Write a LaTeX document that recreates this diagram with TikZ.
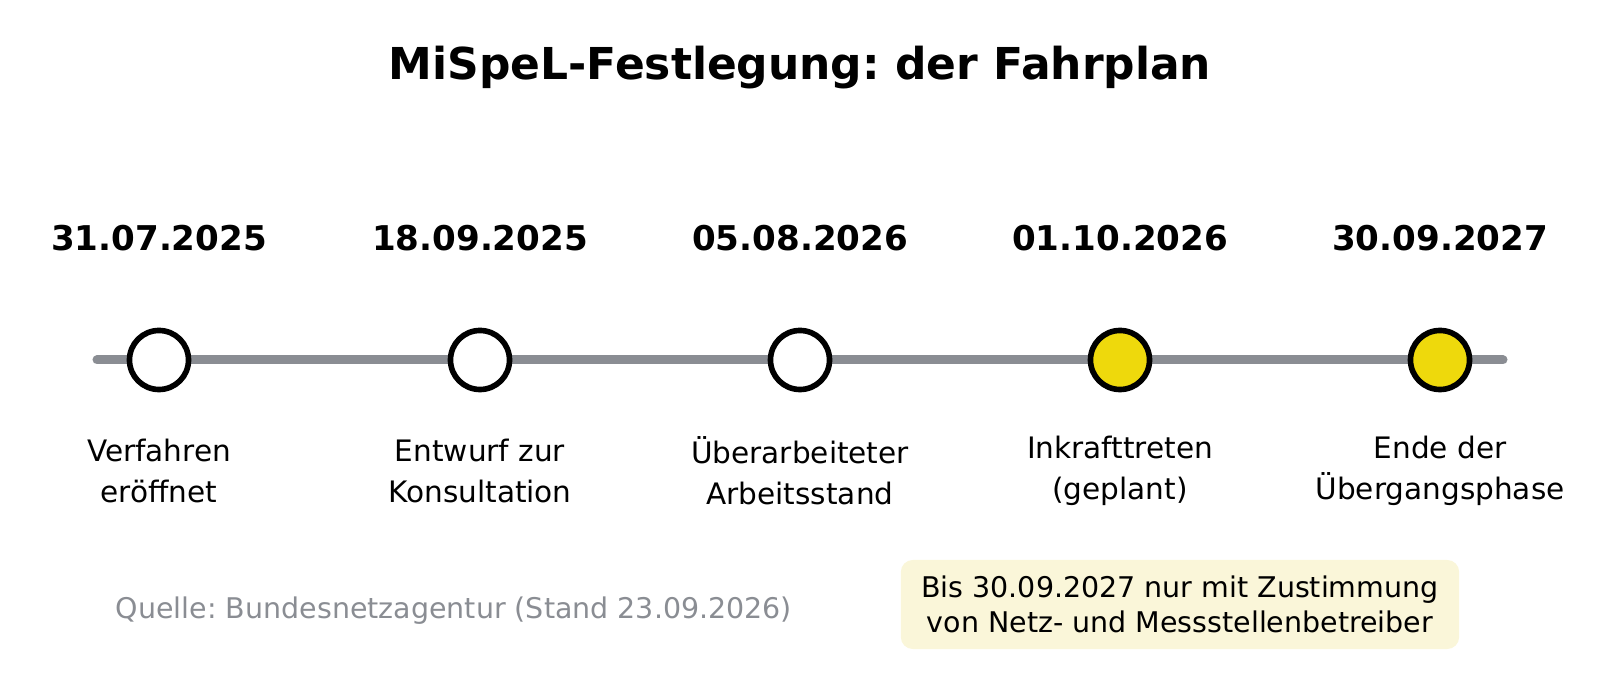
\documentclass[tikz,border=0pt]{standalone}
\usepackage{fontspec}
\setmainfont{DejaVu Sans}
\frenchspacing
\definecolor{trackgray}{HTML}{8A8D93}
\definecolor{signalyellow}{HTML}{EED90C}
\definecolor{notefill}{HTML}{FAF6D9}
\tikzset{
  track/.style={line width=2.56pt, trackgray, line cap=round},
  milestone/.style={circle, draw=black, line width=1.6pt, fill=white, inner sep=0pt, minimum size=0.59cm},
  planned/.style={milestone, fill=signalyellow},
  datum/.style={font=\fontsize{9.7}{11}\selectfont\bfseries},
  caption/.style={font=\fontsize{8.4}{11.6}\selectfont, align=center},
}
\begin{document}
\begin{tikzpicture}[x=0.01cm, y=0.01cm]
    \useasboundingbox (0,0) rectangle (1600,700);

    % title
    \node[font=\fontsize{12.5}{15}\selectfont\bfseries] (title) at (800,632) {MiSpeL-Festlegung: der Fahrplan};

    \coordinate (start) at (97,340);
    \coordinate (end) at (1503,340);
    \draw[track] (start) -- (end);

    \node[milestone] (m1) at (159,340) {};
    \node[milestone] (m2) at (480,340) {};
    \node[milestone] (m3) at (800,340) {};
    \node[planned] (m4) at (1120,340) {};
    \node[planned] (m5) at (1440,340) {};

    \node[datum] (d1) at (159,462) {31.07.2025};
    \node[datum] (d2) at (480,462) {18.09.2025};
    \node[datum] (d3) at (800,462) {05.08.2026};
    \node[datum] (d4) at (1120,462) {01.10.2026};
    \node[datum] (d5) at (1440,462) {30.09.2027};

    \node[caption] (c1) at (159,229) {Verfahren\\eröffnet};
    \node[caption] (c2) at (480,229) {Entwurf zur\\Konsultation};
    \node[caption] (c3) at (800,229) {Überarbeiteter\\Arbeitsstand};
    \node[caption] (c4) at (1120,229) {Inkrafttreten\\(geplant)};
    \node[caption] (c5) at (1440,229) {Ende der\\Übergangsphase};

    \node[font=\fontsize{8.1}{10}\selectfont, text=trackgray] (source) at (454,89) {Quelle: Bundesnetzagentur (Stand 23.09.2026)};

    \node[fill=notefill, rounded corners=3.4pt, minimum width=5.58cm, minimum height=0.89cm,
          font=\fontsize{8.1}{9.96}\selectfont, align=center] (note) at (1180,95.5)
          {Bis 30.09.2027 nur mit Zustimmung\\von Netz- und Messstellenbetreiber};
\end{tikzpicture}
\end{document}
